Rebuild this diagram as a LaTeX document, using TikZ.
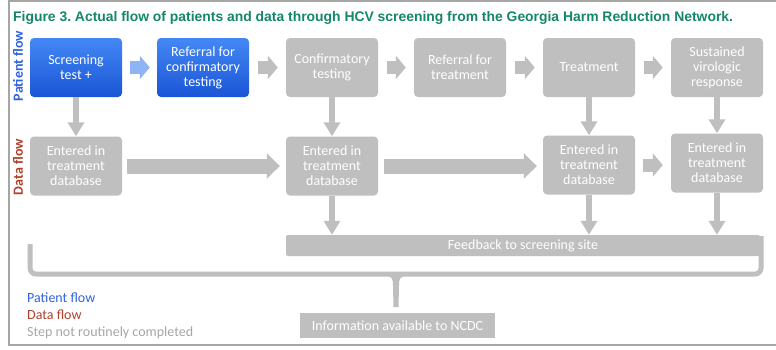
\documentclass[tikz,border=0pt]{standalone}
\usepackage{fontspec}
\setmainfont{Carlito}
\newfontfamily\titlefont{Liberation Sans}
\usetikzlibrary{arrows.meta}
\frenchspacing

\definecolor{stepGray}{HTML}{BFBFBF}
\definecolor{frameGray}{HTML}{A6A6A6}
\definecolor{blueTop}{HTML}{4488F5}
\definecolor{blueBot}{HTML}{1A55D5}
\definecolor{arrowBlue}{HTML}{8FB4F5}
\definecolor{titleGreen}{HTML}{14876A}
\definecolor{patientBlue}{HTML}{2F62E0}
\definecolor{dataRed}{HTML}{B0402A}
\definecolor{legendGray}{HTML}{A6A6A6}

\begin{document}
\begin{tikzpicture}[x=1pt,y=-1pt,
    box/.style={rounded corners=4pt, minimum width=92pt, minimum height=59pt, inner sep=0pt,
      align=center, text=white, font=\fontsize{14}{15}\selectfont},
    graybox/.style={box, fill=stepGray},
    bluebox/.style={box, top color=blueTop, bottom color=blueBot},
    bar/.style={fill=stepGray, inner sep=0pt, text=white, font=\fontsize{14}{15}\selectfont},
    smallarrow/.style={line width=13pt, -{Triangle[width=23pt,length=10pt]}},
    longarrow/.style={line width=15pt, stepGray, -{Triangle[width=25pt,length=13pt]}},
    downarrow/.style={line width=6pt, stepGray, -{Triangle[width=16pt,length=14pt]}},
    side/.style={rotate=90, inner sep=0pt, font=\fontsize{14}{15}\selectfont\bfseries},
    legend/.style={anchor=base west, inner sep=0pt, font=\fontsize{14}{15}\selectfont}]
    \useasboundingbox (0,0) rectangle (776,349);

    % Frame
    \draw[frameGray, line width=2pt] (776,1) -- (9,1) -- (9,345) -- (776,345);

    % Title
    \node[anchor=base west, inner sep=0pt, text=titleGreen,
      font=\titlefont\bfseries\fontsize{13.9}{16}\selectfont] (title) at (13,21)
      {Figure 3. Actual flow of patients and data through HCV screening from the Georgia Harm Reduction Network.};

    % Row labels
    \node[side, text=patientBlue] (pflow) at (18,66) {Patient flow};
    \node[side, text=dataRed] (dflow) at (18,167) {Data flow};

    % Patient flow row
    \node[bluebox] (s1) at (76,67.5) {Screening\\test +};
    \node[bluebox] (s2) at (203,67.5) {Referral for\\confirmatory\\testing};
    \node[graybox] (s3) at (332,67.5) {Confirmatory\\testing};
    \node[graybox] (s4) at (460,67.5) {Referral for\\treatment};
    \node[graybox] (s5) at (589,67.5) {Treatment};
    \node[graybox] (s6) at (717,67.5) {Sustained\\virologic\\response};

    % Data flow row
    \node[graybox] (d1) at (76,166) {Entered in\\treatment\\database};
    \node[graybox] (d3) at (332,166) {Entered in\\treatment\\database};
    \node[graybox] (d5) at (589,165) {Entered in\\treatment\\database};
    \node[graybox] (d6) at (717,163) {Entered in\\treatment\\database};

    % Feedback and reporting
    \node[bar, rounded corners=2pt, minimum width=474pt, minimum height=21pt] (fb) at (523,245.5) {Feedback to screening site};
    \node[bar, minimum width=195pt, minimum height=25pt] (ncdc) at (397.5,325.5) {Information available to NCDC};

    % Arrows between steps
    \draw[smallarrow, arrowBlue] ([xshift=8pt]s1.east) -- ([xshift=-7pt]s2.west);
    \foreach \a/\b in {s2/s3,s3/s4,s4/s5,s5/s6}
        \draw[smallarrow, stepGray] ([xshift=8.5pt]\a.east) -- ([xshift=-8pt]\b.west);
    \draw[longarrow] ([xshift=5pt]d1.east) -- ([xshift=-6pt]d3.west);
    \draw[longarrow] ([xshift=6pt]d3.east) -- ([xshift=-6pt]d3.east -| d5.west);
    \draw[smallarrow, stepGray] ([xshift=8pt]d5.east) -- ([xshift=-8pt]d5.east -| d6.west);

    % Steps into the database
    \foreach \a/\b in {s1/d1,s3/d3,s5/d5,s6/d6}
        \draw[downarrow] (\a.south) -- (\b.north);
    \foreach \a in {d3,d5,d6}
        \draw[downarrow] (\a.south) -- (\a.south |- fb.north);

    % Bracket to NCDC
    \coordinate (bl) at (30,244);
    \coordinate (br) at (761,236);
    \draw[stepGray, line width=5pt, rounded corners=6pt] (bl) -- (bl |- 0,274) -- (br |- 0,274) -- (br);
    \fill[stepGray] (386,276) .. controls (392,276) and (393,279) .. (393,286) -- (393.5,307)
        -- (398.5,307) -- (399,286) .. controls (399,279) and (400,276) .. (406,276) -- cycle;

    % Legend
    \node[legend, text=patientBlue] (lpatient) at (27,302) {Patient flow};
    \node[legend, text=dataRed] (ldata) at (27,319) {Data flow};
    \node[legend, text=legendGray] (lstep) at (27,336) {Step not routinely completed};
\end{tikzpicture}
\end{document}
